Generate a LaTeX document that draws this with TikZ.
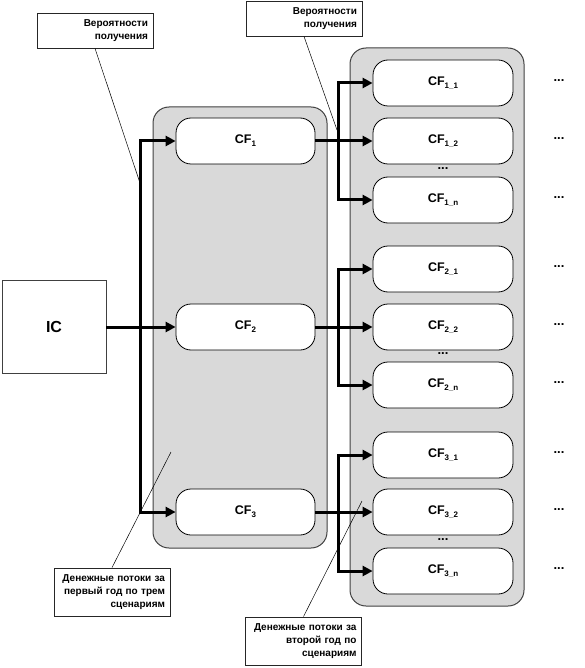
\documentclass[tikz,border=0pt]{standalone}
\usepackage{fontspec}
\setmainfont{Liberation Sans}
\usetikzlibrary{arrows.meta,calc}
\definecolor{panelgrey}{HTML}{D9D9D9}
\definecolor{edgegrey}{HTML}{404040}
\newcommand{\cfl}[1]{CF\raisebox{-3pt}{\fontsize{8}{8}\selectfont #1}}
\begin{document}
\begin{tikzpicture}[x=1pt,y=-1pt,
  panel/.style={draw=edgegrey,fill=panelgrey,line width=1pt,rounded corners=16pt},
  cfbox/.style={draw=black,fill=white,line width=0.8pt,rounded corners=15pt,
    minimum width=139pt,minimum height=46pt,inner sep=0pt,
    font=\fontsize{12.5}{14}\selectfont\bfseries},
  callout/.style={draw=black!85,fill=white,line width=0.8pt,inner xsep=5pt,inner ysep=0pt,
    align=right,text width=106pt,minimum width=116pt,
    font=\fontsize{10}{13}\selectfont\bfseries},
  flow/.style={line width=3pt,line join=miter},
  tip/.style={-{Triangle[length=10pt,width=10pt]}},
  tips/.style={{Triangle[length=10pt,width=10pt]}-{Triangle[length=10pt,width=10pt]}},
  leader/.style={line width=0.5pt,draw=black},
  dots/.style={font=\fontsize{13}{13}\selectfont\bfseries,inner sep=0pt}]
\useasboundingbox (0,0) rectangle (585,668);
% panels
\draw[panel] (153,107) rectangle (327,548);
\draw[panel] (350,48) rectangle (524,606);
% IC
\node[draw=edgegrey,line width=0.8pt,minimum width=104pt,minimum height=93pt,
  font=\fontsize{16}{18}\selectfont\bfseries] (IC) at (54,327) {IC};
% first-year boxes
\node[cfbox] (C1) at (245.5,141) {\cfl{1}};
\node[cfbox] (C2) at (245.5,327) {\cfl{2}};
\node[cfbox] (C3) at (245.5,512) {\cfl{3}};
% second-year boxes
\node[cfbox,minimum width=140pt] (C11) at (443,83) {\cfl{1\_1}};
\node[cfbox,minimum width=140pt] (C12) at (443,141) {\cfl{1\_2}};
\node[cfbox,minimum width=140pt] (C1n) at (443,200) {\cfl{1\_n}};
\node[cfbox,minimum width=140pt] (C21) at (443,269) {\cfl{2\_1}};
\node[cfbox,minimum width=140pt] (C22) at (443,327) {\cfl{2\_2}};
\node[cfbox,minimum width=140pt] (C2n) at (443,385) {\cfl{2\_n}};
\node[cfbox,minimum width=140pt] (C31) at (443,455) {\cfl{3\_1}};
\node[cfbox,minimum width=140pt] (C32) at (443,512) {\cfl{3\_2}};
\node[cfbox,minimum width=140pt] (C3n) at (443,571) {\cfl{3\_n}};
% dots
\node[dots] (d1) at (443,169) {...};
\node[dots] (d2) at (443,354) {...};
\node[dots] (d3) at (443,540) {...};
\node[dots] (r11) at (559,81) {...};
\node[dots] (r12) at (559,139) {...};
\node[dots] (r1n) at (559,198) {...};
\node[dots] (r21) at (559,267) {...};
\node[dots] (r22) at (559,325) {...};
\node[dots] (r2n) at (559,383) {...};
\node[dots] (r31) at (559,453) {...};
\node[dots] (r32) at (559,510) {...};
\node[dots] (r3n) at (559,569) {...};
% buses
\coordinate (busL) at (140,0);
\coordinate (busR) at (338,0);
\draw[flow,tip] (IC.east) -- (C2.west);
\draw[flow,tips] (C1.west) -| (busL |- C3.west) -- (C3.west);
\draw[flow,tip] (C1.east) -- (C12.west);
\draw[flow,tips] (C11.west) -| (busR |- C1n.west) -- (C1n.west);
\draw[flow,tip] (C2.east) -- (C22.west);
\draw[flow,tips] (C21.west) -| (busR |- C2n.west) -- (C2n.west);
\draw[flow,tip] (C3.east) -- (C32.west);
\draw[flow,tips] (C31.west) -| (busR |- C3n.west) -- (C3n.west);
% callouts
\node[callout,minimum height=35pt] (A1) at (95,30.5) {Вероятности\\получения};
\node[callout,minimum height=35pt] (A2) at (304,18.5) {Вероятности\\получения};
\node[callout,minimum height=48pt] (A3) at (112,592) {Денежные потоки за\\первый год по трем\\сценариям};
\node[callout,minimum height=48pt] (A4) at (303.5,641) {Денежные потоки за\\второй год по\\сценариям};
\coordinate (p1) at (140,183);
\coordinate (p2) at (337,130);
\coordinate (p3) at (171,452);
\coordinate (p4) at (362,501);
\draw[leader] (A1.south) -- (p1);
\draw[leader] (A2.south) -- (p2);
\draw[leader] (A3.north) -- (p3);
\draw[leader] (A4.north) -- (p4);
\end{tikzpicture}
\end{document}
